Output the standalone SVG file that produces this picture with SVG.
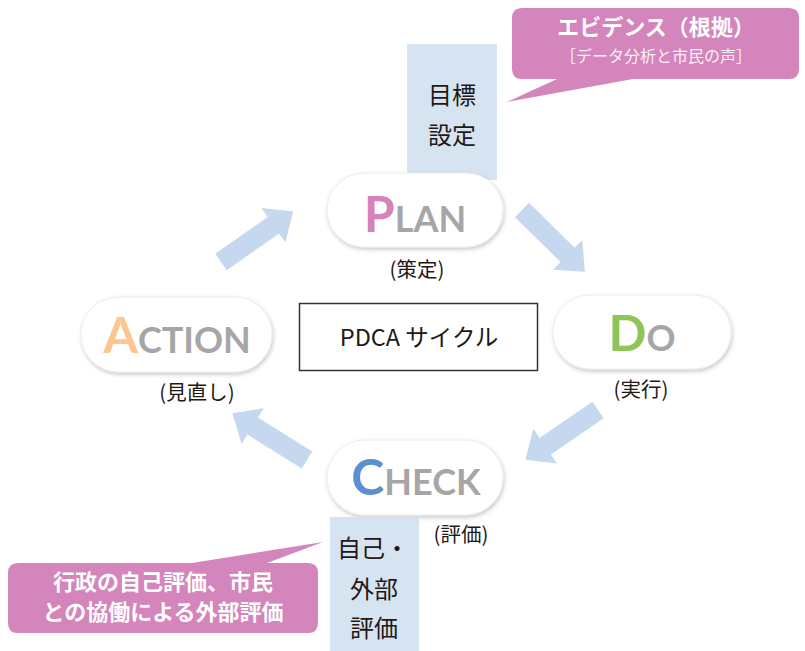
<svg xmlns="http://www.w3.org/2000/svg" xmlns:xlink="http://www.w3.org/1999/xlink" width="805" height="651" viewBox="0 0 805 651">
<defs>
<style>
.pill{fill:#ffffff;stroke:#ececec;stroke-width:1;filter:url(#sh)}
.big{font-family:Lato,"Liberation Sans",sans-serif;font-weight:700;font-size:50px}
.sm{font-family:Lato,"Liberation Sans",sans-serif;font-weight:700;font-size:36px;fill:#a6a6a8}
.lbl{font-family:"Noto Sans CJK JP","Noto Sans",sans-serif;font-size:20.5px;fill:#231815;text-anchor:middle}
.note{fill:#d6e3f1}
.nt{font-family:"Noto Sans CJK JP",sans-serif;font-size:24px;fill:#231815;text-anchor:middle}
.bub{fill:#d485bb}
.bt{font-family:"Noto Sans CJK JP",sans-serif;font-weight:700;fill:#ffffff;text-anchor:middle}
.arr{fill:#c5d8ef}
</style>
<filter id="sh" x="-20%" y="-30%" width="140%" height="160%">
<feDropShadow dx="1" dy="2" stdDeviation="2" flood-color="#000" flood-opacity="0.22"/>
</filter>
<polygon id="arrow" points="0,-10 64,-10 64,-21 88,0 64,21 64,10 0,10"/>
</defs>
<rect width="805" height="651" fill="#ffffff"/>

<g id="connectors">
<use xlink:href="#arrow" class="arr" transform="translate(221,262) rotate(-35)"/>
<use xlink:href="#arrow" class="arr" transform="translate(522,210) rotate(44.5)"/>
<use xlink:href="#arrow" class="arr" transform="translate(598,410) rotate(145.6)"/>
<use xlink:href="#arrow" class="arr" transform="translate(307,460) rotate(212)"/>
</g>

<g id="goal-note">
<rect class="note" x="407" y="44" width="90" height="136"/>
<text class="nt" x="452" y="104" font-size="26">目標</text>
<text class="nt" x="452" y="144" font-size="26">設定</text>
</g>

<g id="evidence-bubble">
<path class="bub" d="M522,8 H789 Q799,8 799,18 V69 Q799,79 789,79 H633 L507,102 L557,79 H522 Q512,79 512,69 V18 Q512,8 522,8 Z"/>
<text class="bt" x="656" y="35" font-size="22">エビデンス（根拠）</text>
<text class="bt" x="656" y="62" font-size="16" fill-opacity="0.9" style="font-weight:400">［データ分析と市民の声］</text>
</g>

<g id="plan">
<rect class="pill" x="327" y="173" width="176" height="74" rx="37"/>
<text x="415" y="232" text-anchor="middle"><tspan class="big" fill="#d584bb">P</tspan><tspan class="sm">LAN</tspan></text>
<text class="lbl" x="417" y="277">(策定)</text>
</g>

<g id="do">
<rect class="pill" x="553" y="295" width="178" height="74" rx="37"/>
<text x="642" y="351" text-anchor="middle"><tspan class="big" fill="#8dc556" font-size="54">D</tspan><tspan class="sm">O</tspan></text>
<text class="lbl" x="641" y="397">(実行)</text>
</g>

<g id="action">
<rect class="pill" x="81" y="297" width="191" height="75" rx="37.5"/>
<text x="177" y="353" text-anchor="middle"><tspan class="big" fill="#fcc690" font-size="52">A</tspan><tspan class="sm">CTION</tspan></text>
<text class="lbl" x="197" y="400">(見直し)</text>
</g>

<g id="check">
<rect class="pill" x="327" y="440" width="176" height="75" rx="37.5"/>
<text x="416" y="495" text-anchor="middle"><tspan class="big" fill="#5b8fd2" font-size="52">C</tspan><tspan class="sm">HECK</tspan></text>
<text class="lbl" x="461" y="542">(評価)</text>
</g>

<g id="pdca-center">
<rect x="299.5" y="303.5" width="238" height="67" fill="#ffffff" stroke="#3a3230" stroke-width="1.5"/>
<text x="419" y="346" text-anchor="middle" font-family="'Noto Sans CJK JP',sans-serif" font-size="23.5" fill="#231815">PDCA サイクル</text>
</g>

<g id="eval-note">
<rect class="note" x="330" y="517" width="89" height="134"/>
<text class="nt" x="373" y="557">自己・</text>
<text class="nt" x="374" y="598">外部</text>
<text class="nt" x="374" y="637">評価</text>
</g>

<g id="eval-bubble">
<path class="bub" d="M18,563 H192 L323,542 L267,563 H308 Q318,563 318,573 V623 Q318,633 308,633 H18 Q8,633 8,623 V573 Q8,563 18,563 Z"/>
<text class="bt" x="163" y="590" font-size="22">行政の自己評価、市民</text>
<text class="bt" x="163" y="620" font-size="22">との協働による外部評価</text>
</g>
</svg>
